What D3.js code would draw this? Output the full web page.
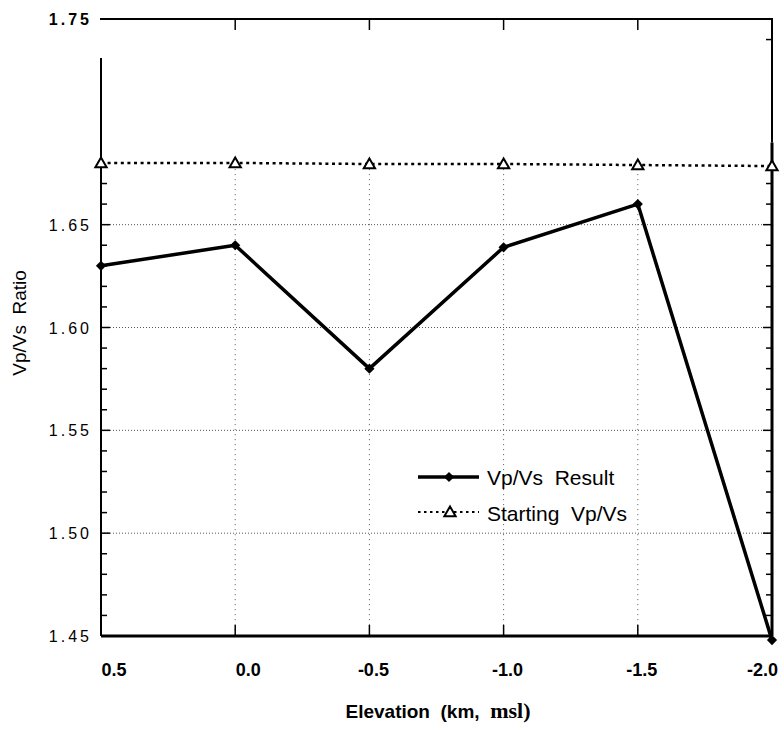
<!DOCTYPE html>
<html>
<head>
<meta charset="utf-8">
<script src="https://cdn.jsdelivr.net/npm/d3@7"></script>
<style>
  body { margin: 0; background: #fff; }
  text { font-family: "Liberation Sans", Arial, sans-serif; fill: #000; white-space: pre; }
</style>
</head>
<body>
<div id="chart"></div>
<script>
// elevation (km, msl) of each layer
var elevations = [0.5, 0.0, -0.5, -1.0, -1.5, -2.0]
var resultRatio = [1.630, 1.640, 1.580, 1.639, 1.660, 1.448]
var startRatio = [1.680, 1.680, 1.6795, 1.6795, 1.679, 1.6785]

var xTickLabels = ['0.5', '0.0', '-0.5', '-1.0', '-1.5', '-2.0']
var yTickValues = [1.45, 1.50, 1.55, 1.60, 1.65, 1.75]
var yGridValues = [1.50, 1.55, 1.60, 1.65]
var yMinorLeft = [1.46, 1.47, 1.48, 1.49, 1.51, 1.52, 1.53, 1.54, 1.56, 1.57, 1.58, 1.59, 1.61, 1.62, 1.63, 1.64, 1.66, 1.67]
var yMinorRight = yMinorLeft.concat([1.74])

var W = 784, H = 732
var svg = d3.select('#chart').append('svg')
  .attr('width', W)
  .attr('height', H)

var xMap = d3.scaleLinear().domain([0.5, -2.0]).range([101, 772])
var yMap = d3.scaleLinear().domain([1.45, 1.75]).range([636, 19])

var g = svg.append('g')

// grid
g.selectAll('.hgrid').data(yGridValues).enter().append('line')
  .attr('x1', xMap(0.5)).attr('x2', xMap(-2.0))
  .attr('y1', d => yMap(d)).attr('y2', d => yMap(d))
  .style('stroke', '#555')
  .style('stroke-width', 1)
  .style('stroke-dasharray', '1,2')

g.selectAll('.vgrid').data(elevations.slice(1, -1)).enter().append('line')
  .attr('x1', d => xMap(d)).attr('x2', d => xMap(d))
  .attr('y1', yMap(1.677)).attr('y2', yMap(1.45))
  .style('stroke', '#555')
  .style('stroke-width', 1)
  .style('stroke-dasharray', '1,4')

// frame
var frame = [
  [xMap(0.5) - 1, yMap(1.75), xMap(-2.0) + 1, yMap(1.75), 2],
  [xMap(0.5), yMap(1.731), xMap(0.5), yMap(1.45), 2],
  [xMap(-2.0), yMap(1.75), xMap(-2.0), yMap(1.69), 2],
  [xMap(-2.0), yMap(1.69), xMap(-2.0), yMap(1.45), 3],
  [xMap(0.5), yMap(1.45), xMap(-2.0), yMap(1.45), 3]
]
g.selectAll('.frame').data(frame).enter().append('line')
  .attr('x1', d => d[0]).attr('y1', d => d[1])
  .attr('x2', d => d[2]).attr('y2', d => d[3])
  .style('stroke', '#000')
  .style('stroke-width', d => d[4])

// y ticks (inward on both sides)
g.selectAll('.ytl').data(yTickValues.filter(d => d < 1.7)).enter().append('line')
  .attr('x1', xMap(0.5)).attr('x2', xMap(0.5) + 9)
  .attr('y1', d => yMap(d)).attr('y2', d => yMap(d))
  .style('stroke', '#000').style('stroke-width', 1.5)
g.selectAll('.ytr').data(yTickValues.filter(d => d < 1.7)).enter().append('line')
  .attr('x1', xMap(-2.0)).attr('x2', xMap(-2.0) - 9)
  .attr('y1', d => yMap(d)).attr('y2', d => yMap(d))
  .style('stroke', '#000').style('stroke-width', 1.5)
g.selectAll('.ymL').data(yMinorLeft).enter().append('line')
  .attr('x1', xMap(0.5)).attr('x2', xMap(0.5) + 6)
  .attr('y1', d => yMap(d)).attr('y2', d => yMap(d))
  .style('stroke', '#000').style('stroke-width', 1.5)
g.selectAll('.ymR').data(yMinorRight).enter().append('line')
  .attr('x1', xMap(-2.0)).attr('x2', xMap(-2.0) - 6)
  .attr('y1', d => yMap(d)).attr('y2', d => yMap(d))
  .style('stroke', '#000').style('stroke-width', 1.5)

// x ticks top and bottom
g.selectAll('.xtt').data(elevations.slice(1, -1)).enter().append('line')
  .attr('x1', d => xMap(d)).attr('x2', d => xMap(d))
  .attr('y1', yMap(1.75)).attr('y2', yMap(1.75) + 11)
  .style('stroke', '#000').style('stroke-width', 1.5)
g.selectAll('.xtb').data(elevations.slice(1, -1)).enter().append('line')
  .attr('x1', d => xMap(d)).attr('x2', d => xMap(d))
  .attr('y1', yMap(1.45)).attr('y2', yMap(1.45) - 11)
  .style('stroke', '#000').style('stroke-width', 1.5)

// y tick labels
g.selectAll('.ylab').data(yTickValues).enter().append('text')
  .attr('x', 92)
  .attr('y', d => yMap(d) + 6)
  .style('text-anchor', 'end')
  .style('font-size', '16px')
  .style('letter-spacing', '3px')
  .style('font-weight', d => d > 1.7 ? 'bold' : 'normal')
  .text(d => d.toFixed(2))

// x tick labels
g.selectAll('.xlab').data(elevations).enter().append('text')
  .attr('x', (d, i) => i === elevations.length - 1 ? xMap(d) + 6 : xMap(d) + (d >= 0 ? 13 : 4))
  .attr('y', 676)
  .style('text-anchor', (d, i) => i === elevations.length - 1 ? 'end' : 'middle')
  .style('font-size', '18px')
  .style('font-weight', 'bold')
  .text((d, i) => xTickLabels[i])

// starting model
var lineStart = d3.line().x((d, i) => xMap(elevations[i])).y(d => yMap(d))
g.append('path')
  .datum(startRatio)
  .attr('d', lineStart)
  .style('fill', 'none')
  .style('stroke', '#000')
  .style('stroke-width', 2.5)
  .style('stroke-dasharray', '3,3.6')

var tri = d3.symbol().type(d3.symbolTriangle).size(55)
g.selectAll('.tri').data(startRatio).enter().append('path')
  .attr('d', tri)
  .attr('transform', (d, i) => 'translate(' + [xMap(elevations[i]), yMap(d) + 1] + ')')
  .style('fill', '#fff')
  .style('stroke', '#000')
  .style('stroke-width', 2)

// result
g.append('path')
  .datum(resultRatio)
  .attr('d', lineStart)
  .style('fill', 'none')
  .style('stroke', '#000')
  .style('stroke-width', 3.5)
  .style('stroke-linejoin', 'round')

var dia = d3.symbol().type(d3.symbolSquare).size(52)
g.selectAll('.dia').data(resultRatio).enter().append('path')
  .attr('d', dia)
  .attr('transform', (d, i) => 'translate(' + [xMap(elevations[i]), yMap(d)] + ') rotate(45)')
  .style('fill', '#000')

// legend
var gL = g.append('g').attr('transform', 'translate(418, 477)')
gL.append('line').attr('x1', 0).attr('x2', 61).attr('y1', 0).attr('y2', 0)
  .style('stroke', '#000').style('stroke-width', 3.5)
gL.append('path').attr('d', dia).attr('transform', 'translate(31,0) rotate(45)').style('fill', '#000')
gL.append('text').attr('x', 69).attr('y', 8)
  .style('font-size', '21px')
  .text('Vp/Vs  Result')

gL.append('line').attr('x1', 0).attr('x2', 61).attr('y1', 35).attr('y2', 35)
  .style('stroke', '#000').style('stroke-width', 2)
  .style('stroke-dasharray', '2.5,3.5')
gL.append('path').attr('d', tri).attr('transform', 'translate(32,36)')
  .style('fill', '#fff').style('stroke', '#000').style('stroke-width', 2)
gL.append('text').attr('x', 69).attr('y', 44)
  .style('font-size', '21px')
  .text('Starting  Vp/Vs')

// axis titles
g.append('text')
  .attr('transform', 'translate(26, 323) rotate(-90)')
  .style('text-anchor', 'middle')
  .style('font-size', '19px')
  .text('Vp/Vs  Ratio')

var xt = g.append('text')
  .attr('x', 438)
  .attr('y', 718)
  .style('text-anchor', 'middle')
  .style('font-size', '19px')
  .style('font-weight', 'bold')
xt.append('tspan').text('Elevation  (km,  ')
xt.append('tspan')
  .style('font-family', '"Liberation Serif", "Times New Roman", serif')
  .style('font-size', '22px')
  .text('msl)')
</script>
</body>
</html>
